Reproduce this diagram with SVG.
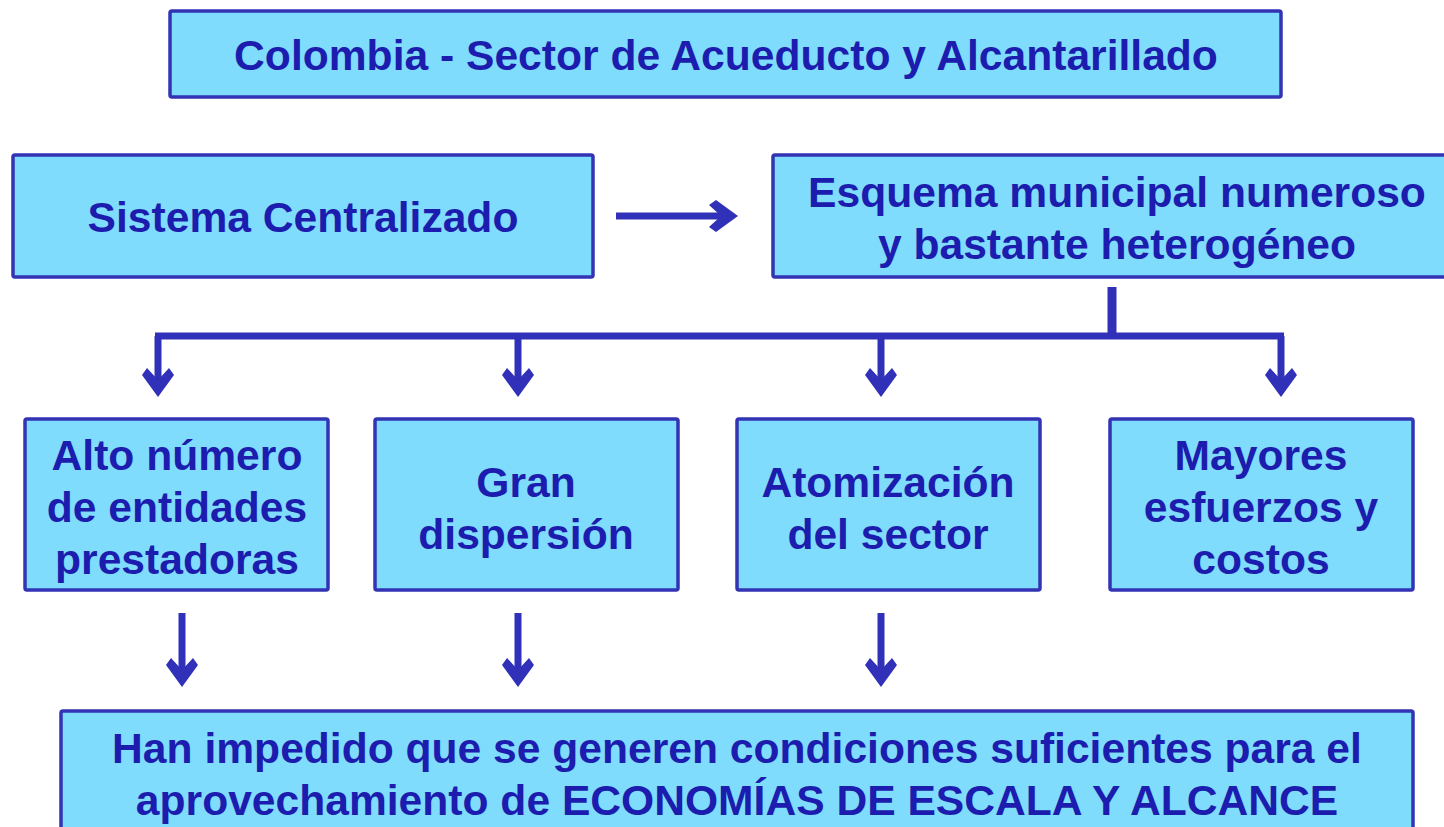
<svg xmlns="http://www.w3.org/2000/svg" width="1444" height="827" viewBox="0 0 1444 827">
<style>
.box{fill:#7fdcfd;stroke:#3333b5;stroke-width:3.5}
.t{font-family:"Liberation Sans",Arial,sans-serif;font-weight:bold;font-size:42.6px;fill:#1c1cae;text-anchor:middle}
.ln{stroke:#3030b8;stroke-width:7;fill:none}
.ah{fill:#3030b8}
</style>
<defs>
<path id="dh" d="M0,0 L-16,-22 L-11,-29 L0,-17 L11,-29 L16,-22 Z"/>
</defs>
<rect width="1444" height="827" fill="#fff"/>
<g id="title">
<rect class="box" x="170" y="11" width="1111" height="86" rx="2"/>
<text class="t" x="726" y="70">Colombia - Sector de Acueducto y Alcantarillado</text>
</g>
<g id="sistema">
<rect class="box" x="13" y="155" width="580" height="122" rx="2"/>
<text class="t" x="303" y="232">Sistema Centralizado</text>
</g>
<g id="esquema">
<rect class="box" x="773" y="155" width="690" height="122" rx="2"/>
<text class="t" x="1117" y="207">Esquema municipal numeroso</text>
<text class="t" x="1117" y="259">y bastante heterogéneo</text>
</g>
<g id="alto">
<rect class="box" x="25" y="419" width="303" height="171" rx="2"/>
<text class="t" x="177" y="470">Alto número</text>
<text class="t" x="177" y="522">de entidades</text>
<text class="t" x="177" y="574">prestadoras</text>
</g>
<g id="gran">
<rect class="box" x="375" y="419" width="303" height="171" rx="2"/>
<text class="t" x="526" y="497">Gran</text>
<text class="t" x="526" y="549">dispersión</text>
</g>
<g id="atom">
<rect class="box" x="737" y="419" width="303" height="171" rx="2"/>
<text class="t" x="888" y="497">Atomización</text>
<text class="t" x="888" y="549">del sector</text>
</g>
<g id="mayores">
<rect class="box" x="1110" y="419" width="303" height="171" rx="2"/>
<text class="t" x="1261" y="470">Mayores</text>
<text class="t" x="1261" y="522">esfuerzos y</text>
<text class="t" x="1261" y="574">costos</text>
</g>
<g id="han">
<rect class="box" x="61" y="711" width="1352" height="130" rx="2"/>
<text class="t" x="737" y="763">Han impedido que se generen condiciones suficientes para el</text>
<text class="t" x="737" y="815">aprovechamiento de ECONOMÍAS DE ESCALA Y ALCANCE</text>
</g>
<g id="connectors">
<line class="ln" x1="616" y1="216" x2="725" y2="216"/>
<use href="#dh" class="ah" transform="translate(738,216) rotate(-90)"/>
<line class="ln" x1="1112" y1="287" x2="1112" y2="336" style="stroke-width:9"/>
<line class="ln" x1="155" y1="336" x2="1284" y2="336"/>
<line class="ln" x1="158" y1="336" x2="158" y2="384"/>
<use href="#dh" class="ah" transform="translate(158,397)"/>
<line class="ln" x1="518" y1="336" x2="518" y2="384"/>
<use href="#dh" class="ah" transform="translate(518,397)"/>
<line class="ln" x1="881" y1="336" x2="881" y2="384"/>
<use href="#dh" class="ah" transform="translate(881,397)"/>
<line class="ln" x1="1281" y1="336" x2="1281" y2="384"/>
<use href="#dh" class="ah" transform="translate(1281,397)"/>
<line class="ln" x1="182" y1="613" x2="182" y2="674"/>
<use href="#dh" class="ah" transform="translate(182,687)"/>
<line class="ln" x1="518" y1="613" x2="518" y2="674"/>
<use href="#dh" class="ah" transform="translate(518,687)"/>
<line class="ln" x1="881" y1="613" x2="881" y2="674"/>
<use href="#dh" class="ah" transform="translate(881,687)"/>
</g>
</svg>
